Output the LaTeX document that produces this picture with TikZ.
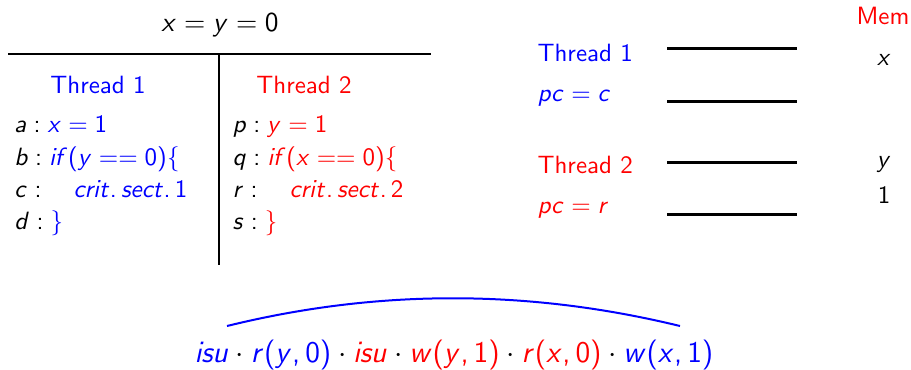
\documentclass[tikz,border=0pt]{standalone}
\usetikzlibrary{positioning}
% sans serif maths, as on the slides
\SetSymbolFont{operators}{normal}{OT1}{cmss}{m}{n}
\SetSymbolFont{letters}{normal}{OT1}{cmss}{m}{sl}
\mathcode`,="602C
\mathcode`.="002E

\begin{document}
\begin{tikzpicture}[
      x=0.4pt, y=-0.4pt,
      every node/.style={font=\sffamily, inner sep=0pt},
      code/.style={anchor=base west},
      head/.style={anchor=base},
      reg/.style={draw, line width=1.2pt},
      rule/.style={draw, line width=0.8pt}
    ]
    \useasboundingbox (0,0) rectangle (911,369);

    % program
    \node[head, font=\sffamily\fontsize{11}{13}\selectfont] (init) at (220,31) {$x = y = 0$};
    \coordinate (ruleL) at (8,54);
    \coordinate (ruleR) at (431,54);
    \coordinate (ruleT) at (219,54);
    \coordinate (ruleB) at (219,265);
    \draw[rule] (ruleL) -- (ruleR);
    \draw[rule] (ruleT) -- (ruleB);

    \node[head, text=blue] (t1) at (98,93) {Thread 1};
    \node[head, text=red] (t2) at (304,93) {Thread 2};

    \node[code] (la) at (14,132) {$a : \color{blue} x = 1$};
    \node[code] (lb) at (14,165) {$b : \color{blue} if(y == 0)\{$};
    \node[code] (lc) at (14,197) {$c : \quad \color{blue} crit.\,sect.\,1$};
    \node[code] (ld) at (14,229) {$d : \color{blue}{\}}$};

    \node[code] (lp) at (232,132) {$p : \color{red} y = 1$};
    \node[code] (lq) at (232,165) {$q : \color{red} if(x == 0)\{$};
    \node[code] (lr) at (232,197) {$r : \quad \color{red} crit.\,sect.\,2$};
    \node[code] (ls) at (232,229) {$s : \color{red}{\}}$};

    % state
    \node[code, text=blue] (st1) at (537,61) {Thread 1};
    \node[code, text=blue] (pc1) at (537,101) {$pc = c$};
    \node[code, text=red] (st2) at (537,173) {Thread 2};
    \node[code, text=red] (pc2) at (537,213) {$pc = r$};

    \draw[reg] (667,48) coordinate (b1a) -- (797,48) coordinate (b1b);
    \draw[reg] (667,101) coordinate (b2a) -- (797,101) coordinate (b2b);
    \draw[reg] (667,162) coordinate (b3a) -- (797,162) coordinate (b3b);
    \draw[reg] (667,214) coordinate (b4a) -- (797,214) coordinate (b4b);

    \node[head, text=red] (mem) at (883,24) {Mem};
    \node[head] (mx) at (884,65) {$x$};
    \node[head] (my) at (884,167) {$y$};
    \node[head] (mv) at (884,203) {$1$};

    % trace
    \node[head, font=\sffamily\fontsize{11.6}{14}\selectfont] (trace) at (454,362) {$\color{blue} isu \color{black}\cdot \color{blue} r(y,0) \color{black}\cdot \color{red} isu \color{black}\cdot \color{red} w(y,1) \color{black}\cdot \color{red} r(x,0) \color{black}\cdot \color{blue} w(x,1)$};
    \coordinate (arcL) at (227,326);
    \coordinate (arcR) at (680,326);
    \draw[blue, line width=0.8pt] (arcL) .. controls (377,289) and (528,289) .. (arcR);
  \end{tikzpicture}
\end{document}
